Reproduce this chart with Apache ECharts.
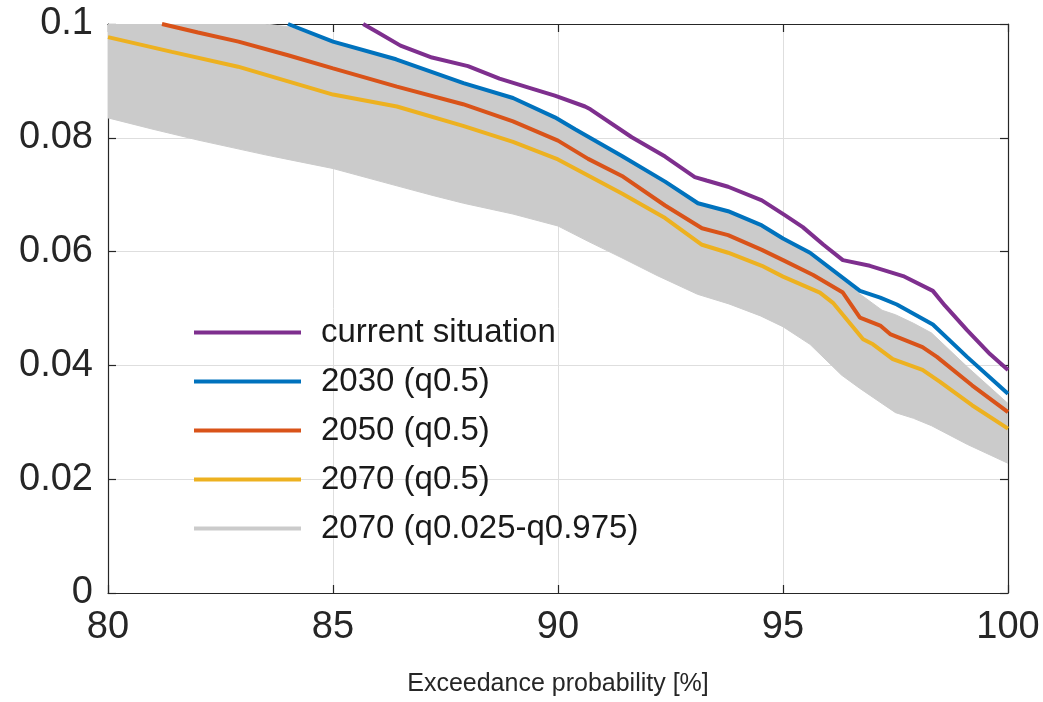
<!DOCTYPE html>
<html>
<head>
<meta charset="utf-8">
<script src="https://cdn.jsdelivr.net/npm/echarts@6/dist/echarts.min.js"></script>
<style>
html,body{margin:0;padding:0;background:#fff;}
#chart{width:1043px;height:702px;}
</style>
</head>
<body>
<div id="chart"></div>
<script>
// ---- data ----
const xTicks = [80, 85, 90, 95, 100];
const yTicks = [0, 0.02, 0.04, 0.06, 0.08, 0.1];
const xTitle = 'Exceedance probability [%]';

const seriesNames = ['current situation', '2030 (q0.5)', '2050 (q0.5)', '2070 (q0.5)', '2070 (q0.025-q0.975)'];

const current = [[85.67,0.1],[86.0,0.0985],[86.5,0.0962],[87.2,0.0941],[88.0,0.0926],[88.7,0.0904],[89.4,0.0887],[89.93,0.0874],[90.6,0.0855],[90.72,0.0850],[91.64,0.0801],[92.38,0.0767],[93.04,0.0731],[93.3,0.0725],[93.78,0.0714],[94.53,0.0690],[95.04,0.0664],[95.44,0.0643],[95.9,0.0612],[96.33,0.0585],[96.93,0.0575],[97.67,0.0557],[98.33,0.0531],[98.6,0.0505],[99.09,0.0462],[99.6,0.0420],[100,0.0392]];

const q2030 = [[84.0,0.1],[85.0,0.0969],[86.4,0.0938],[87.9,0.0896],[89.0,0.0870],[89.93,0.0836],[90.38,0.0815],[91.42,0.0768],[92.38,0.0723],[93.11,0.0685],[93.78,0.0671],[94.53,0.0646],[95.0,0.0623],[95.6,0.0598],[96.71,0.0531],[97.16,0.0519],[97.53,0.0507],[98.33,0.0472],[99.09,0.0415],[100,0.0350]];

const q2050 = [[81.2,0.1],[82.0,0.0985],[82.9,0.0969],[84.0,0.0945],[85.0,0.0922],[86.42,0.0890],[87.89,0.0859],[89.0,0.0829],[90.0,0.0795],[90.67,0.0763],[91.42,0.0733],[92.38,0.0681],[93.2,0.0641],[93.78,0.0629],[94.53,0.0603],[95.0,0.0585],[95.67,0.0559],[96.33,0.0528],[96.71,0.0484],[97.16,0.0470],[97.38,0.0455],[98.1,0.0432],[98.42,0.0415],[99.2,0.0365],[100,0.0318]];

const q2070 = [[80,0.0977],[81.42,0.0951],[82.89,0.0925],[85.0,0.0876],[86.42,0.0855],[87.89,0.0821],[89.0,0.0793],[90.0,0.0762],[91.42,0.0702],[92.38,0.0659],[93.2,0.0612],[93.78,0.0598],[94.53,0.0575],[95.0,0.0556],[95.82,0.0528],[96.11,0.0510],[96.78,0.0446],[97.0,0.0437],[97.44,0.0411],[98.1,0.0392],[98.49,0.0371],[99.2,0.0330],[100,0.0289]];

// 2070 band (q0.025 - q0.975)
const bandX  = [80, 81, 82, 83.5, 84, 85, 86.4, 87.2, 87.9, 89, 90, 90.67, 91.42, 92.2, 93.1, 93.8, 94.5, 95, 95.6, 96.3, 96.7, 97.2, 97.5, 97.9, 98.3, 99.1, 100];
const bandLo = [0.0835, 0.0815, 0.0796, 0.0770, 0.0762, 0.0746, 0.0716, 0.0699, 0.0685, 0.0666, 0.0645, 0.0618, 0.0589, 0.0558, 0.0525, 0.0508, 0.0487, 0.0468, 0.0437, 0.0383, 0.0360, 0.0333, 0.0317, 0.0307, 0.0294, 0.0261, 0.0228];
const bandHi = [0.1, 0.1, 0.1, 0.1, 0.0995, 0.0969, 0.0938, 0.0916, 0.0896, 0.0870, 0.0834, 0.0803, 0.0768, 0.0731, 0.0685, 0.0671, 0.0647, 0.0623, 0.0598, 0.0551, 0.0526, 0.0497, 0.0489, 0.0474, 0.0457, 0.0397, 0.0333];

const colors = ['#7E2F8E', '#0072BD', '#D95319', '#EDB120', '#CBCBCB'];

// ---- chart ----
const FONT = "'Liberation Sans', Arial, Helvetica, sans-serif";
const TXT = '#262626';
const chart = echarts.init(document.getElementById('chart'), null, {renderer: 'canvas'});

const xmin = xTicks[0], xmax = xTicks[xTicks.length - 1], xint = xTicks[1] - xTicks[0];
const ymin = yTicks[0], ymax = yTicks[yTicks.length - 1], yint = yTicks[1] - yTicks[0];
const fmtY = v => {
  const r = +(+v).toFixed(4);
  return r === 0 ? '0' : String(r);
};

const axisLineStyle = {color: TXT, width: 1.2};
const lineSeries = (name, data, color) => ({
  name, type: 'line', data, color,
  symbol: 'none', showSymbol: false, smooth: false,
  itemStyle: {color},
  lineStyle: {width: 4, color},
  clip: true, z: 3,
  emphasis: {disabled: true}
});

const bandData = bandX.map((x, i) => [x, bandLo[i], bandHi[i]]);

chart.setOption({
  animation: false,
  backgroundColor: '#fff',
  grid: {left: 108, right: 35, top: 24, bottom: 104, containLabel: false},
  legend: {
    orient: 'vertical',
    left: 189, top: 311,
    icon: 'rect',
    itemWidth: 107, itemHeight: 4, itemGap: 16,
    textStyle: {fontFamily: FONT, fontSize: 33, color: '#1a1a1a', lineHeight: 30, padding: [0, 0, 0, 15]},
    selectedMode: false,
    data: seriesNames.map(n => ({name: n}))
  },
  xAxis: [{
    type: 'value', min: xmin, max: xmax, interval: xint,
    name: xTitle, nameLocation: 'middle', nameGap: 79,
    nameTextStyle: {fontFamily: FONT, fontSize: 25, color: TXT},
    axisLine: {show: true, onZero: false, lineStyle: axisLineStyle},
    axisTick: {show: true, inside: true, length: 8, lineStyle: axisLineStyle},
    axisLabel: {fontFamily: FONT, fontSize: 38, color: TXT, margin: 16},
    splitLine: {show: true, lineStyle: {color: '#dedede', width: 1}}
  }, {
    type: 'value', position: 'top', min: xmin, max: xmax, interval: xint,
    axisLine: {show: true, onZero: false, lineStyle: axisLineStyle},
    axisTick: {show: true, inside: true, length: 8, lineStyle: axisLineStyle},
    axisLabel: {show: false}, splitLine: {show: false}
  }],
  yAxis: [{
    type: 'value', min: ymin, max: ymax, interval: yint,
    axisLine: {show: true, onZero: false, lineStyle: axisLineStyle},
    axisTick: {show: true, inside: true, length: 8, lineStyle: axisLineStyle},
    axisLabel: {fontFamily: FONT, fontSize: 38, color: TXT, margin: 15, formatter: fmtY},
    splitLine: {show: true, lineStyle: {color: '#dedede', width: 1}}
  }, {
    type: 'value', position: 'right', min: ymin, max: ymax, interval: yint,
    axisLine: {show: true, onZero: false, lineStyle: axisLineStyle},
    axisTick: {show: true, inside: true, length: 8, lineStyle: axisLineStyle},
    axisLabel: {show: false}, splitLine: {show: false}
  }],
  series: [
    {
      name: seriesNames[4], type: 'custom', color: colors[4],
      itemStyle: {color: colors[4]},
      data: bandData,
      encode: {x: 0, y: [1, 2]},
      clip: true, z: 1,
      renderItem: function (params, api) {
        if (params.dataIndex !== 0) return null;
        const pts = [];
        for (let i = 0; i < bandX.length; i++) pts.push(api.coord([bandX[i], bandHi[i]]));
        for (let i = bandX.length - 1; i >= 0; i--) pts.push(api.coord([bandX[i], bandLo[i]]));
        return {
          type: 'polygon',
          shape: {points: pts},
          style: {fill: colors[4], stroke: colors[4], lineWidth: 1}
        };
      }
    },
    lineSeries(seriesNames[3], q2070, colors[3]),
    lineSeries(seriesNames[2], q2050, colors[2]),
    lineSeries(seriesNames[1], q2030, colors[1]),
    lineSeries(seriesNames[0], current, colors[0])
  ]
});
</script>
</body>
</html>
